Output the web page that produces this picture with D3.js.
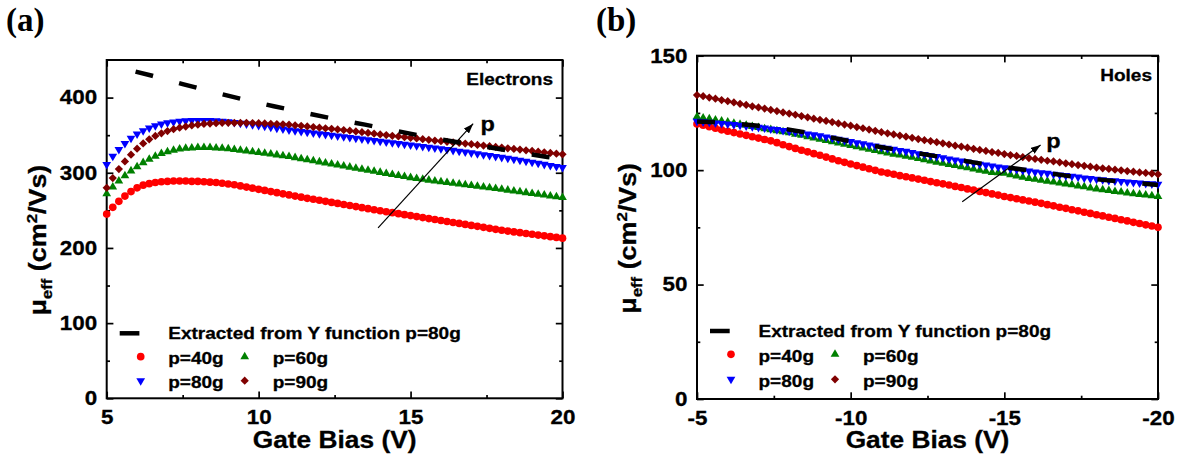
<!DOCTYPE html>
<html><head><meta charset="utf-8">
<script src="https://cdn.jsdelivr.net/npm/d3@7"></script>
<style>body{margin:0;background:#fff}svg{display:block}</style>
</head><body>
<svg id="chart" width="1177" height="459"></svg>
<script>
// ---------- data ----------
const gateBiasA = [5.0,5.2,5.4,5.6,5.8,6.0,6.2,6.4,6.6,6.8,7.0,7.2,7.4,7.6,7.8,8.0,8.2,8.4,8.6,8.8,9.0,9.2,9.4,9.6,9.8,10.0,10.2,10.4,10.6,10.8,11.0,11.2,11.4,11.6,11.8,12.0,12.2,12.4,12.6,12.8,13.0,13.2,13.4,13.6,13.8,14.0,14.2,14.4,14.6,14.8,15.0,15.2,15.4,15.6,15.8,16.0,16.2,16.4,16.6,16.8,17.0,17.2,17.4,17.6,17.8,18.0,18.2,18.4,18.6,18.8,19.0,19.2,19.4,19.6,19.8,20.0];
const gateBiasB = [-5.0,-5.2,-5.4,-5.6,-5.8,-6.0,-6.2,-6.4,-6.6,-6.8,-7.0,-7.2,-7.4,-7.6,-7.8,-8.0,-8.2,-8.4,-8.6,-8.8,-9.0,-9.2,-9.4,-9.6,-9.8,-10.0,-10.2,-10.4,-10.6,-10.8,-11.0,-11.2,-11.4,-11.6,-11.8,-12.0,-12.2,-12.4,-12.6,-12.8,-13.0,-13.2,-13.4,-13.6,-13.8,-14.0,-14.2,-14.4,-14.6,-14.8,-15.0,-15.2,-15.4,-15.6,-15.8,-16.0,-16.2,-16.4,-16.6,-16.8,-17.0,-17.2,-17.4,-17.6,-17.8,-18.0,-18.2,-18.4,-18.6,-18.8,-19.0,-19.2,-19.4,-19.6,-19.8,-20.0];

// (a) Electrons
const electronP40 = [245,254,262,269,275,280,283.5,285.5,287,288,288.5,289,289,289,288.5,288.5,288,287.5,287,286,285,284,282.5,281,279.5,278,276.5,275,273.5,272,270.5,269,267.5,266,264.8,263.5,262,260.6,259.2,257.8,256.5,255,253.6,252.2,250.8,249.5,248.2,246.9,245.6,244.3,243,241.7,240.4,239.1,237.8,236.5,235.2,233.9,232.6,231.3,230,228.7,227.4,226.1,224.8,223.5,222.4,221.3,220.3,219.2,218.2,217.1,216.1,215,214,213];
const electronP60 = [272,281,289,296,302.5,308,313.5,318,322,325.5,328,330,331.5,332.5,333,333.5,333.5,333.5,333,332.5,332,331,330,329,328,327,326,324.9,323.8,322.7,321.5,320.1,318.7,317.3,315.9,314.5,313.1,311.7,310.3,308.9,307.5,306.1,304.7,303.3,301.9,300.5,299.1,297.7,296.3,294.9,293.5,292.4,291.3,290.2,289.1,288,287,286,285,284,283,282,281,280,279,278,276.9,275.8,274.7,273.6,272.5,271.4,270.3,269.2,268.1,267];
const electronP80 = [311,322,331,339,346,351.5,356,359.5,362.5,365,366.5,367.5,368.5,369,369.5,369.5,369.5,369.5,369,368.5,368,367,366,365,364,363,361.8,360.6,359.4,358.2,357,356,355,354,353,352,351,350,349,348,347,346,345,344,343,342,341,340,339,338,337,336,335,334,333,332,330.9,329.8,328.7,327.6,326.5,325.3,324.1,322.9,321.7,320.5,319.2,317.9,316.6,315.3,314,312.6,311.2,309.8,308.4,307];
const electronP90 = [280,293,305,315,324,332,339,344.5,349,352.5,355.5,358,360,361.5,363,364,365,365.5,366,366.5,366.5,366.5,366.5,366.5,366.2,366,365.6,365.2,364.8,364.4,364,363.2,362.4,361.6,360.8,360,359.2,358.4,357.6,356.8,356,355,354,353,352,351,350.1,349.2,348.3,347.4,346.5,345.6,344.7,343.8,342.9,342,341.2,340.4,339.6,338.8,338,337.1,336.2,335.3,334.4,333.5,332.6,331.7,330.8,329.9,329,328.1,327.2,326.3,325.4,324.5];
const yFuncBiasA = [5.95,6.5,7.5,8.5,9.5,10.5,11.5,12.5,13.5,14.5,15.5,16.5,17.5,18.5,19.5,20];
const yFuncMuA   = [434.5,429,418,407.5,397.5,388.5,380,371.5,364,356,348,341,334.5,327.5,321,318];

// (b) Holes
const holeP40 = [120.2,119.6,119.0,118.3,117.6,117.0,116.4,115.8,115.2,114.6,114.0,113.4,112.8,112.0,111.1,110.3,109.5,108.7,108.0,107.2,106.5,105.7,104.9,104.1,103.4,102.7,102.0,101.3,100.6,99.9,99.2,98.7,98.2,97.6,97.1,96.6,96.1,95.6,95.0,94.5,94.0,93.5,92.9,92.4,91.8,91.3,90.7,90.2,89.6,89.1,88.5,88.0,87.5,87.0,86.5,86.0,85.5,84.9,84.4,83.8,83.3,82.7,82.2,81.6,81.1,80.5,80.0,79.4,78.9,78.3,77.8,77.2,76.7,76.1,75.6,75.0];
const holeP60 = [123.3,122.8,122.4,121.9,121.5,121.0,120.5,120.0,119.6,119.1,118.6,118.1,117.7,117.2,116.8,116.3,115.7,115.2,114.6,114.1,113.5,113.0,112.4,111.9,111.3,110.8,110.2,109.7,109.1,108.6,108.0,107.5,107.0,106.6,106.1,105.6,105.1,104.6,104.0,103.5,103.0,102.5,102.0,101.5,101.0,100.5,100.0,99.5,99.0,98.9,98.6,98.0,97.4,96.9,96.4,96.0,95.6,95.2,94.8,94.4,94.0,93.6,93.1,92.7,92.2,91.8,91.4,91.1,90.7,90.4,90.0,89.7,89.4,89.1,88.8,88.5];
const holeP80 = [121.3,121.1,120.9,120.6,120.4,120.2,119.9,119.6,119.3,119.0,118.7,118.4,118.0,117.7,117.3,117.0,116.6,116.2,115.8,115.4,115.0,114.5,114.0,113.5,113.0,112.5,112.0,111.5,111.0,110.5,110.0,109.5,109.1,108.6,108.2,107.7,107.2,106.8,106.3,105.9,105.4,104.9,104.4,104.0,103.5,103.0,102.6,102.2,101.8,101.4,101.0,100.6,100.3,99.9,99.6,99.2,98.9,98.6,98.2,97.9,97.6,97.3,97.0,96.6,96.3,96.0,95.8,95.5,95.3,95.0,94.8,94.6,94.4,94.2,94.0,93.8];
const holeP90 = [132.8,132.3,131.7,131.2,130.6,130.1,129.6,129.0,128.5,127.9,127.4,126.9,126.3,125.8,125.2,124.7,124.2,123.6,123.1,122.5,122.0,121.5,121.0,120.4,119.9,119.4,118.8,118.3,117.7,117.2,116.6,116.1,115.6,115.1,114.6,114.1,113.6,113.1,112.7,112.2,111.7,111.2,110.7,110.3,109.8,109.3,108.8,108.4,107.9,107.5,107.0,106.6,106.2,105.7,105.3,104.9,104.5,104.1,103.8,103.4,103.0,102.6,102.2,101.9,101.5,101.1,100.8,100.5,100.2,99.9,99.6,99.3,99.0,98.8,98.5,98.2];
const yFuncBiasB = [-5,-6,-7,-8,-9,-10,-11,-12,-13,-14,-15,-16,-17,-18,-19,-20];
const yFuncMuB   = [121.3,120.6,119.4,117.7,115.3,112.5,110,107.8,105.6,103.4,101.3,99.6,97.6,96,94.7,93.5];

const seriesLabels = ["p=40g","p=60g","p=80g","p=90g"];
const dashLabel = "Extracted from Y function p=80g";
const xTicksA = [5,10,15,20], xMinorA = [7.5,12.5,17.5];
const yTicksA = [0,100,200,300,400], yMinorA = [50,150,250,350];
const xTicksB = [-5,-10,-15,-20], xMinorB = [-7.5,-12.5,-17.5];
const yTicksB = [0,50,100,150], yMinorB = [25,75,125];
const arrowA = [[13.93,226.7],[17.06,365.3]], arrowLabelA = [17.3,355.5];
const arrowB = [[-13.63,86.2],[-16.18,111.0]], arrowLabelB = [-16.36,109.7];

// ---------- style ----------
const FONT = "'Liberation Sans', Arial, Helvetica, sans-serif";
const SERIF = "'Liberation Serif', 'Times New Roman', serif";
const SX = 1.12;
const colors = ["#ff0000","#008000","#0000ff","#800000"];
const shapes = ["circle","up","down","diamond"];

const svg = d3.select("#chart");
svg.append("rect").attr("width",1177).attr("height",459).attr("fill","#fff");
const defs = svg.append("defs");
defs.append("marker").attr("id","ah").attr("viewBox","0 0 10 7").attr("refX",10).attr("refY",3.5)
  .attr("markerWidth",10).attr("markerHeight",7).attr("markerUnits","userSpaceOnUse").attr("orient","auto")
  .append("path").attr("d","M0,0L10,3.5L0,7Z").attr("fill","#000");

function symbolPath(kind){
  if(kind==="circle") return d3.symbol(d3.symbolCircle, 46)();
  if(kind==="diamond") return d3.symbol(d3.symbolSquare, 34)();
  return d3.symbol(d3.symbolTriangle, 33)();
}
const symbolRot = {circle:0, up:0, down:180, diamond:45};

function stext(parent, x, y, str, size, anchor){
  return parent.append("text")
    .attr("transform", `translate(${x},${y}) scale(${SX},1)`)
    .attr("text-anchor", anchor || "start")
    .attr("font-family", FONT).attr("font-weight","bold").attr("font-size", size)
    .attr("fill","#000").attr("stroke","#000").attr("stroke-width",0.3).text(str);
}

function drawPanel(o){
  const g = svg.append("g");
  const x = d3.scaleLinear().domain(o.xDomain).range([o.left, o.right]);
  const y = d3.scaleLinear().domain(o.yDomain).range([o.bottom, o.top]);

  const styleAxis = sel => {
    sel.select(".domain").remove();
    sel.attr("font-family", FONT).attr("font-weight","bold").attr("font-size", 20);
    sel.selectAll(".tick line").attr("stroke-width", 1.7);
    sel.selectAll(".tick text").attr("transform", `scale(${SX},1)`).attr("fill","#000")
      .attr("stroke","#000").attr("stroke-width",0.3);
  };
  const fmt = d => String(d);
  g.append("g").attr("transform",`translate(0,${o.bottom})`)
    .call(d3.axisBottom(x).tickValues(o.xTicks).tickSizeInner(-6.7).tickSizeOuter(0).tickPadding(12).tickFormat(fmt)).call(styleAxis);
  g.append("g").attr("transform",`translate(0,${o.bottom})`)
    .call(d3.axisBottom(x).tickValues(o.xMinor).tickSizeInner(-3.3).tickSizeOuter(0).tickFormat("")).call(styleAxis);
  g.append("g").attr("transform",`translate(0,${o.top})`)
    .call(d3.axisTop(x).tickValues(o.xTicks.concat(o.xMinor)).tickSizeInner(-6.7).tickSizeOuter(0).tickFormat("")).call(styleAxis)
    .selectAll(".tick line").attr("y2", d => o.xMinor.includes(d) ? 3.3 : 6.7);
  g.append("g").attr("transform",`translate(${o.left},0)`)
    .call(d3.axisLeft(y).tickValues(o.yTicks).tickSizeInner(-6.7).tickSizeOuter(0).tickPadding(8.5).tickFormat(fmt)).call(styleAxis);
  g.append("g").attr("transform",`translate(${o.left},0)`)
    .call(d3.axisLeft(y).tickValues(o.yMinor).tickSizeInner(-3.3).tickSizeOuter(0).tickFormat("")).call(styleAxis);
  g.append("g").attr("transform",`translate(${o.right},0)`)
    .call(d3.axisRight(y).tickValues(o.yTicks.concat(o.yMinor)).tickSizeInner(-6.7).tickSizeOuter(0).tickFormat("")).call(styleAxis)
    .selectAll(".tick line").attr("x2", d => o.yMinor.includes(d) ? -3.3 : -6.7);

  g.append("rect").attr("x",o.left).attr("y",o.top).attr("width",o.right-o.left).attr("height",o.bottom-o.top)
    .attr("fill","none").attr("stroke","#000").attr("stroke-width",2);

  // series markers
  o.series.forEach((vals, i) => {
    const pts = d3.zip(o.bias, vals);
    g.append("g").selectAll("path").data(pts).join("path")
      .attr("d", symbolPath(shapes[i]))
      .attr("transform", d => `translate(${x(d[0])},${y(d[1])}) rotate(${symbolRot[shapes[i]]})`)
      .attr("fill", colors[i]);
  });
  // Y-function dashed line
  const line = d3.line().x(d => x(d[0])).y(d => y(d[1]));
  g.append("path").datum(d3.zip(o.dashX, o.dashY)).attr("d", line)
    .attr("fill","none").attr("stroke","#000").attr("stroke-width",4.5).attr("stroke-dasharray","18,27");

  // arrow
  g.append("line").attr("x1",x(o.arrow[0][0])).attr("y1",y(o.arrow[0][1]))
    .attr("x2",x(o.arrow[1][0])).attr("y2",y(o.arrow[1][1]))
    .attr("stroke","#000").attr("stroke-width",1.2).attr("marker-end","url(#ah)");
  stext(g, x(o.arrowLabel[0]), y(o.arrowLabel[1]), "p", 21);

  // corner label
  stext(g, o.right - o.cornerPad, o.top + 25, o.corner, 17, "end");

  // legend
  const L = o.legendY, pl = o.left;
  g.append("line").attr("x1",pl+13).attr("x2",pl+32.7).attr("y1",L[0]).attr("y2",L[0])
    .attr("stroke","#000").attr("stroke-width",4.5);
  stext(g, pl+61.5, L[0]+6, dashLabel, 17);
  const cells = [[0,L[1],pl+34,pl+61.5],[1,L[1],pl+138,pl+166],[2,L[2],pl+34,pl+61.5],[3,L[2],pl+138,pl+166]];
  cells.forEach(([i,yy,mx,tx]) => {
    g.append("path").attr("d", symbolPath(shapes[i]))
      .attr("transform", `translate(${mx},${yy}) rotate(${symbolRot[shapes[i]]})`).attr("fill", colors[i]);
    stext(g, tx, yy+7.5, seriesLabels[i], 17);
  });

  // axis titles
  stext(g, (o.left+o.right)/2, 448, "Gate Bias (V)", 23.5, "middle");
  const yt = g.append("text")
    .attr("transform", `translate(${o.left-61},${(o.top+o.bottom)/2+11}) rotate(-90) scale(${SX},1)`)
    .attr("text-anchor","middle").attr("font-family",FONT).attr("font-weight","bold").attr("font-size",24)
    .attr("fill","#000").attr("stroke","#000").attr("stroke-width",0.3);
  yt.append("tspan").text("\u03bc");
  yt.append("tspan").attr("font-size",15).attr("dy",6).text("eff");
  yt.append("tspan").attr("dy",-6).text(" (cm");
  yt.append("tspan").attr("font-size",15).attr("dy",-9).text("2");
  yt.append("tspan").attr("dy",9).text("/Vs)");

  // panel tag
  svg.append("text").attr("x",o.tagX).attr("y",31).attr("font-family",SERIF).attr("font-weight","bold")
    .attr("font-size",33).attr("fill","#000").text(o.tag);
}

drawPanel({
  left:106.7, right:562.5, top:60, bottom:398.3,
  xDomain:[5,20], yDomain:[0,450],
  xTicks:xTicksA, xMinor:xMinorA, yTicks:yTicksA, yMinor:yMinorA,
  bias:gateBiasA, series:[electronP40, electronP60, electronP80, electronP90],
  dashX:yFuncBiasA, dashY:yFuncMuA,
  arrow:arrowA, arrowLabel:arrowLabelA,
  corner:"Electrons", cornerPad:9.5,
  legendY:[333.3,356.7,380.7],
  tag:"(a)", tagX:6
});
drawPanel({
  left:697, right:1158, top:55.7, bottom:399,
  xDomain:[-5,-20], yDomain:[0,150],
  xTicks:xTicksB, xMinor:xMinorB, yTicks:yTicksB, yMinor:yMinorB,
  bias:gateBiasB, series:[holeP40, holeP60, holeP80, holeP90],
  dashX:yFuncBiasB, dashY:yFuncMuB,
  arrow:arrowB, arrowLabel:arrowLabelB,
  corner:"Holes", cornerPad:6,
  legendY:[331,354.3,379.3],
  tag:"(b)", tagX:596
});
</script>
</body></html>
